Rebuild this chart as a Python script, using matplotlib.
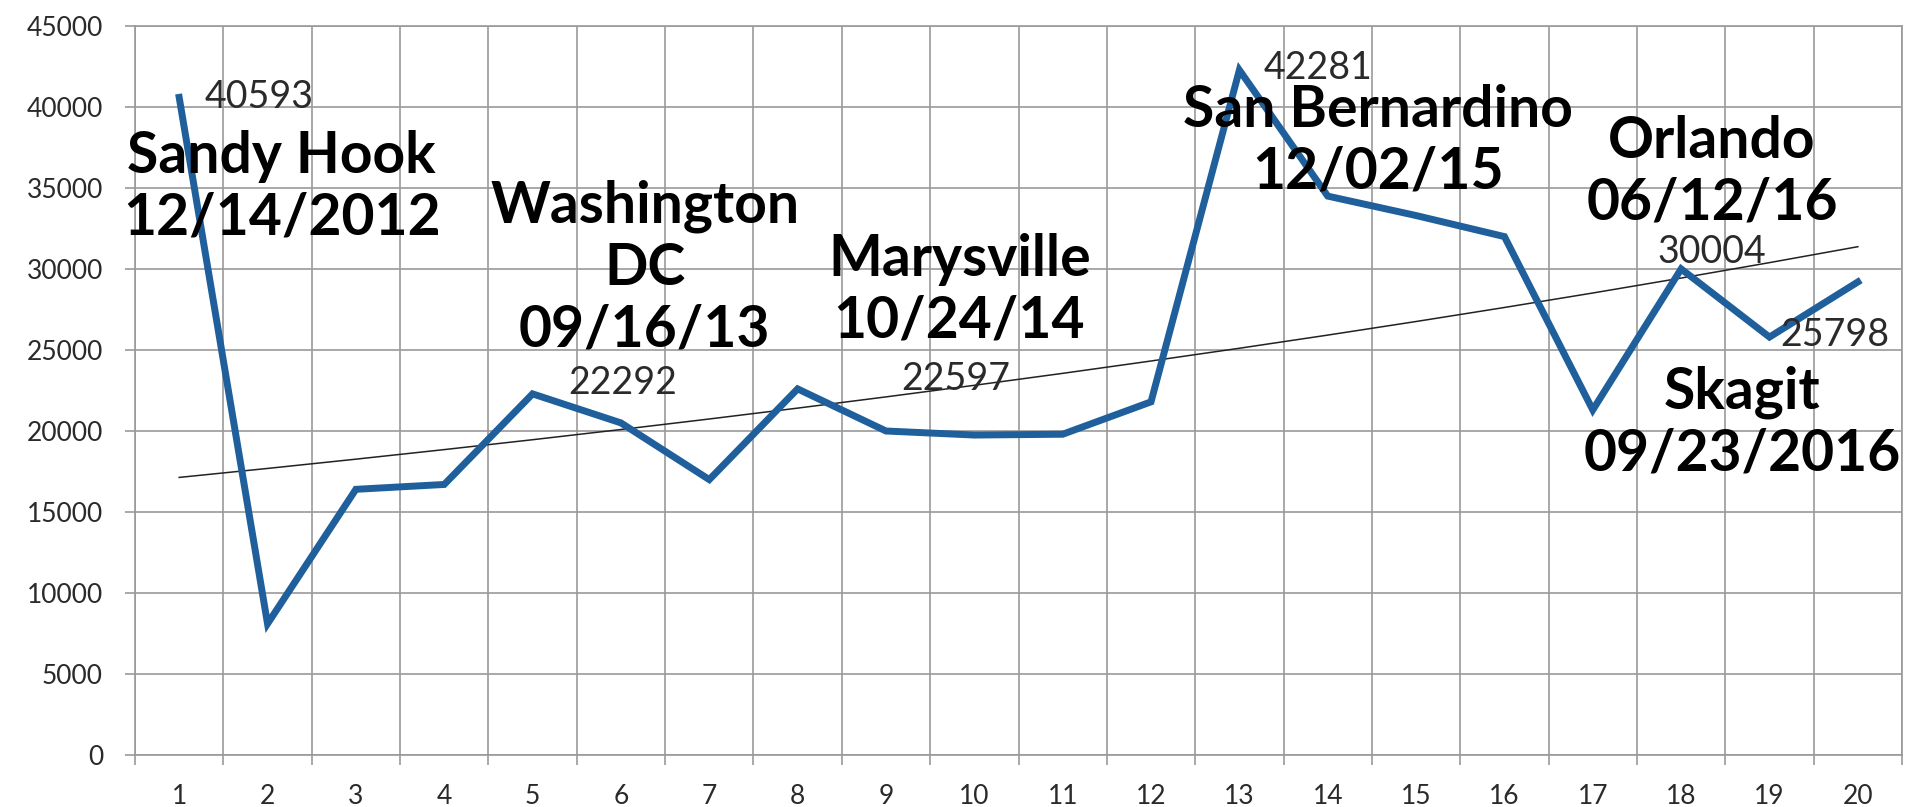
import numpy as np
import matplotlib
matplotlib.use("Agg")
import matplotlib.pyplot as plt

# data
categories = list(range(1, 21))
values = [40593, 8100, 16400, 16700, 22292, 20500, 17000, 22600, 20000, 19750,
          19800, 21800, 42281, 34500, 33300, 32000, 21300, 30004, 25798, 29200]

# value labels: (text, x, y)
value_labels = [("40593", 1.91, 40600), ("22292", 6.02, 22960), ("22597", 9.79, 23210),
                ("42281", 13.89, 42400), ("30004", 18.35, 31050), ("25798", 19.74, 25930)]

# event labels: (text, x, y)
event_labels = [("Sandy Hook\n12/14/2012", 2.16, 35030),
                ("Washington\nDC\n09/16/13", 6.27, 30060),
                ("Marysville\n10/24/14", 9.83, 28700),
                ("San Bernardino\n12/02/15", 14.57, 37900),
                ("Orlando\n06/12/16", 18.35, 35990),
                ("Skagit\n09/23/2016", 18.69, 20500)]

plt.rcParams['font.family'] = ['Lato', 'DejaVu Sans']

fig = plt.figure(figsize=(19.09, 8.07), dpi=100)
ax = fig.add_axes([135/1909, 52/807, 1767/1909, 729/807])

x = np.array(categories)
y = np.array(values)

# exponential trend line (like Excel's)
b, a = np.polyfit(x, np.log(y), 1)
ax.plot(x, np.exp(a + b*x), color='#222222', linewidth=1.1, zorder=3)

ax.plot(x, y, color='#1f5f9b', linewidth=5, solid_joinstyle='miter', zorder=4)

for t, tx, ty in value_labels:
    ax.text(tx, ty, t, fontsize=27, color='#2a2a2a', ha='center', va='center', zorder=5)

for t, tx, ty in event_labels:
    ax.text(tx, ty, t, fontsize=41, fontweight='bold', color='black',
            ha='center', va='center', multialignment='center', linespacing=1.2, zorder=6)

ax.set_xlim(0.5, 20.5)
ax.set_ylim(0, 45000)
ax.set_xticks(categories)
ax.set_xticks(np.arange(0.5, 21, 1), minor=True)
ax.set_yticks(np.arange(0, 45001, 5000))
ax.grid(True, which='minor', axis='x', color='#999999', linewidth=1.2)
ax.grid(True, which='major', axis='y', color='#999999', linewidth=1.2)
ax.tick_params(axis='x', which='major', length=0, pad=21, labelsize=19, labelcolor='#2a2a2a')
ax.tick_params(axis='x', which='minor', length=7, width=1.2, color='#999999')
ax.tick_params(axis='y', length=7, width=1.2, color='#999999', pad=16, labelsize=19,
               labelcolor='#2a2a2a')
for s in ax.spines.values():
    s.set_color('#999999')
    s.set_linewidth(1.2)
ax.set_axisbelow(True)

fig.savefig('out.png', dpi=100)
